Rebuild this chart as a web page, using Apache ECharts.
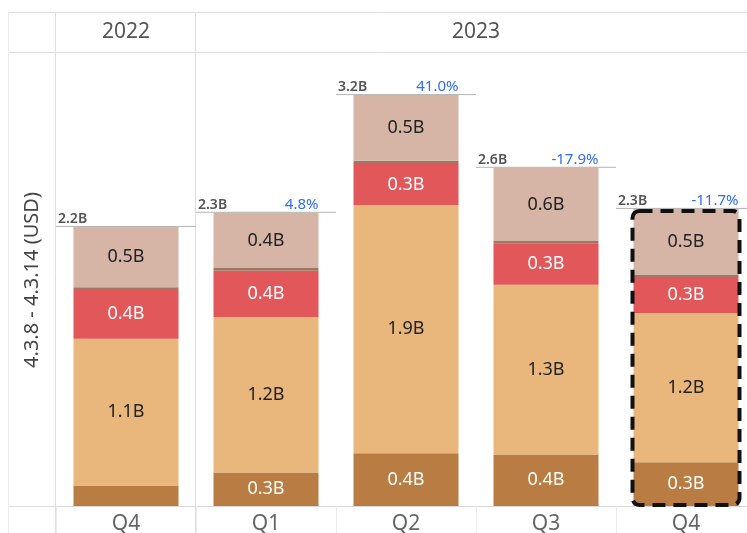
<!DOCTYPE html>
<html>
<head>
<meta charset="utf-8">
<script src="https://cdn.jsdelivr.net/npm/echarts@6/dist/echarts.min.js"></script>
<style>
  html, body { margin: 0; padding: 0; background: #fff; overflow: hidden; }
  #chart { width: 747px; height: 533px; }
</style>
</head>
<body>
<div id="chart"></div>
<script>
// quarters and the year each belongs to
const quarters = ['Q4', 'Q1', 'Q2', 'Q3', 'Q4'];
const years = ['2022', '2023'];
const yearSpans = [1, 4]; // number of quarters under each year

// stacked segments (billions USD), bottom to top
const baseSeg = [0.16, 0.26, 0.41, 0.40, 0.34];
const mainSeg = [1.14, 1.21, 1.93, 1.32, 1.16];
const redSeg = [0.38, 0.36, 0.32, 0.32, 0.28];
const sepSeg = [0.02, 0.02, 0.025, 0.02, 0.02];
const topSeg = [0.47, 0.43, 0.51, 0.57, 0.51];

// quarter over quarter growth (%)
const growth = [null, 4.8, 41.0, -17.9, -11.7];
const highlightIndex = 4;

const totals = quarters.map((q, i) => baseSeg[i] + mainSeg[i] + redSeg[i] + sepSeg[i] + topSeg[i]);

const font = 'Noto Sans';
const chart = echarts.init(document.getElementById('chart'));

function seg(name, data, color, labelColor, minShow) {
  return {
    name: name,
    type: 'bar',
    stack: 'total',
    data: data,
    barWidth: '75%',
    itemStyle: { color: color },
    label: {
      show: labelColor !== null,
      position: 'inside',
      color: labelColor,
      fontFamily: font,
      fontSize: 18,
      formatter: p => (p.value < minShow ? '' : p.value.toFixed(1) + 'B')
    },
    emphasis: { disabled: true },
    silent: true
  };
}

const option = {
  animation: false,
  textStyle: { fontFamily: font },
  // grid runs past the right edge, like the cropped original
  grid: { left: 56, right: -9, top: 52, bottom: 27, containLabel: false, outerBoundsMode: 'none' },
  xAxis: {
    type: 'category',
    data: quarters,
    axisLine: { lineStyle: { color: '#d9d9d9' } },
    axisTick: { show: true, interval: 0, length: 27, lineStyle: { color: '#ececec' } },
    axisLabel: { color: '#666', fontSize: 21, margin: 8, fontFamily: font }
  },
  yAxis: {
    type: 'value',
    min: 0,
    max: 3.53,
    show: false,
    splitLine: { show: false }
  },
  series: [
    seg('base', baseSeg, '#b97c42', '#fff', 0.2),
    seg('main', mainSeg, '#e9b67c', '#222', 0.2),
    seg('red', redSeg, '#e1575a', '#fff', 0.2),
    seg('sep', sepSeg, '#9e7864', null, 0),
    seg('top', topSeg, '#d6b4a6', '#222', 0.2),
    {
      type: 'custom',
      silent: true,
      clip: false,
      z: 10,
      data: quarters.map((q, i) => [i, totals[i], growth[i] === null ? NaN : growth[i]]),
      renderItem: function (params, api) {
        const i = api.value(0);
        const total = api.value(1);
        const g = api.value(2);
        const top = api.coord([i, total]);
        const base = api.coord([i, 0]);
        const bandW = api.size([1, 0])[0];
        const barW = bandW * 0.75;
        const children = [
          {
            type: 'line',
            shape: { x1: top[0] - bandW / 2, y1: top[1] - 0.5, x2: top[0] + bandW / 2, y2: top[1] - 0.5 },
            style: { stroke: '#b3b3b3', lineWidth: 1 }
          },
          {
            type: 'text',
            x: top[0] - bandW / 2 + 2,
            y: top[1] - 1,
            style: {
              text: total.toFixed(1) + 'B',
              fill: '#555', fontSize: 14, fontFamily: font, fontWeight: 600,
              align: 'left', verticalAlign: 'bottom'
            }
          }
        ];
        if (!isNaN(g)) {
          children.push({
            type: 'text',
            x: top[0] + barW / 2,
            y: top[1] - 1,
            style: {
              text: g.toFixed(1) + '%',
              fill: '#2f6df6', fontSize: 15, fontFamily: font,
              align: 'right', verticalAlign: 'bottom'
            }
          });
        }
        if (i === highlightIndex) {
          children.push({
            type: 'rect',
            shape: { x: top[0] - barW / 2 - 1, y: top[1] + 2, width: barW + 2, height: base[1] - top[1] - 3, r: 7 },
            style: { fill: null, stroke: '#111', lineWidth: 4, lineDash: [13, 8] }
          });
        }
        return { type: 'group', children: children };
      }
    }
  ]
};

chart.setOption(option);

// header row, frame and axis title, placed from the category scale
function bandEdge(i) {
  const c0 = chart.convertToPixel({ xAxisIndex: 0 }, 0);
  const c1 = chart.convertToPixel({ xAxisIndex: 0 }, 1);
  const w = c1 - c0;
  return c0 - w / 2 + i * w;
}

const headerTop = 12;
const headerBottom = 52;
const gridColor = '#dedede';
const graphics = [
  { type: 'line', shape: { x1: 8, y1: headerTop + 0.5, x2: 747, y2: headerTop + 0.5 }, style: { stroke: gridColor } },
  { type: 'line', shape: { x1: 8, y1: headerBottom + 0.5, x2: 747, y2: headerBottom + 0.5 }, style: { stroke: gridColor } },
  { type: 'line', shape: { x1: 8, y1: 506.5, x2: 56, y2: 506.5 }, style: { stroke: gridColor } },
  { type: 'line', shape: { x1: 8.5, y1: headerTop, x2: 8.5, y2: 533 }, style: { stroke: '#ececec' } },
  {
    type: 'text', x: 32, y: 280, rotation: Math.PI / 2,
    style: { text: '4.3.8 - 4.3.14 (USD)', fill: '#444', fontSize: 20, fontFamily: font, align: 'center', verticalAlign: 'middle' }
  }
];
let start = 0;
years.forEach((y, k) => {
  const x0 = bandEdge(start);
  graphics.push({ type: 'line', shape: { x1: Math.round(x0) - 0.5, y1: headerTop, x2: Math.round(x0) - 0.5, y2: 533 }, style: { stroke: gridColor } });
  graphics.push({
    type: 'text', x: (bandEdge(start) + bandEdge(start + yearSpans[k])) / 2, y: (headerTop + headerBottom) / 2,
    style: { text: y, fill: '#555', fontSize: 21, fontFamily: font, align: 'center', verticalAlign: 'middle' }
  });
  start += yearSpans[k];
});
chart.setOption({ graphic: graphics });

window.onresize = () => chart.resize();
</script>
</body>
</html>
